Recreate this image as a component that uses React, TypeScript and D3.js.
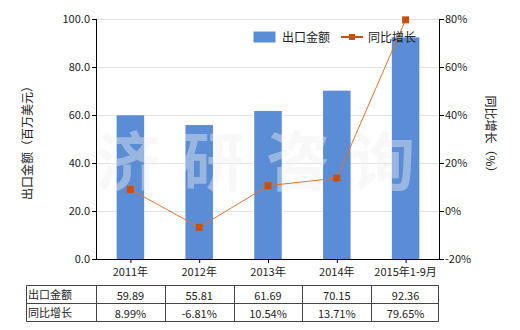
import React from "react";
import * as d3 from "d3";

const categories = ["2011年", "2012年", "2013年", "2014年", "2015年1-9月"];
const exportValues = [59.89, 55.81, 61.69, 70.15, 92.36];
const growthValues = [8.99, -6.81, 10.54, 13.71, 79.65];
const exportLabels = ["59.89", "55.81", "61.69", "70.15", "92.36"];
const growthLabels = ["8.99%", "-6.81%", "10.54%", "13.71%", "79.65%"];
const leftTicks = [0, 20, 40, 60, 80, 100];
const rightTicks = [-20, 0, 20, 40, 60, 80];
const seriesNames = ["出口金额", "同比增长"];
const watermark = ["济", "研", "咨", "询"];

const W = 520;
const H = 330;
const L = 96;
const R = 440;
const T = 19;
const B = 259;
const FONT = "'Noto Sans CJK SC', 'Noto Sans', sans-serif";
const BAR = "#5B8DD6";
const LINE = "#E0732A";
const MARK = "#C8500F";

export default function App() {
  const x = d3.scaleBand<string>().domain(categories).range([L, R]).paddingInner(0).paddingOuter(0);
  const yL = d3.scaleLinear().domain([0, 100]).range([B, T]);
  const yR = d3.scaleLinear().domain([-20, 80]).range([B, T]);
  const bw = x.bandwidth();
  const barW = bw * 0.4;
  const cx = (c: string) => (x(c) as number) + bw / 2;
  const line = d3
    .line<number>()
    .x((_, i) => cx(categories[i]))
    .y((d) => yR(d));
  const row1 = 285.5;
  const row2 = 303.5;
  const row3 = 321.5;
  const tableLeft = 26.5;

  return (
    <svg
      width={W}
      height={H}
      style={{ position: "absolute", left: 0, top: 0, fontFamily: FONT }}
    >
      <rect width={W} height={H} fill="#fff" />
      {/* grid */}
      {leftTicks.map((t) => (
        <line key={"g" + t} x1={L} x2={R} y1={yL(t) + 0.5} y2={yL(t) + 0.5} stroke="#e3e3e3" />
      ))}
      {/* bars */}
      {categories.map((c, i) => (
        <rect
          key={c}
          x={cx(c) - barW / 2}
          y={yL(exportValues[i])}
          width={barW}
          height={B - yL(exportValues[i])}
          fill={BAR}
        />
      ))}
      {/* watermark */}
      {watermark.map((ch, i) => (
        <text
          key={ch}
          x={128 + i * 85}
          y={185}
          textAnchor="middle"
          fontSize={64}
          fontWeight="bold"
          fill="#eeeeee"
          fillOpacity={0.42}
        >
          {ch}
        </text>
      ))}
      {/* line */}
      <path d={line(growthValues) || ""} fill="none" stroke={LINE} strokeWidth={1} />
      {growthValues.map((v, i) => (
        <rect key={"m" + i} x={cx(categories[i]) - 3.5} y={yR(v) - 3.5} width={7} height={7} fill={MARK} />
      ))}
      {/* left axis */}
      <line x1={L + 0.5} x2={L + 0.5} y1={T} y2={B + 0.5} stroke="#000" />
      {leftTicks.map((t) => (
        <g key={"l" + t}>
          <line x1={L - 4} x2={L} y1={yL(t) + 0.5} y2={yL(t) + 0.5} stroke="#000" />
          <text x={L - 6} y={yL(t) + 4} textAnchor="end" fontSize={11} fill="#222">
            {t.toFixed(1)}
          </text>
        </g>
      ))}
      {/* right axis */}
      <line x1={R - 0.5} x2={R - 0.5} y1={T} y2={B + 0.5} stroke="#000" />
      {rightTicks.map((t) => (
        <g key={"r" + t}>
          <line x1={R} x2={R + 4} y1={yR(t) + 0.5} y2={yR(t) + 0.5} stroke="#000" />
          <text x={R + 5} y={yR(t) + 4} textAnchor="start" fontSize={11} fill="#222">
            {t + "%"}
          </text>
        </g>
      ))}
      {/* bottom axis */}
      <line x1={L} x2={R} y1={B + 0.5} y2={B + 0.5} stroke="#000" />
      {categories.map((c) => (
        <g key={"x" + c}>
          <line x1={cx(c) + 0.5} x2={cx(c) + 0.5} y1={B} y2={B + 4} stroke="#000" />
          <text x={cx(c)} y={B + 17} textAnchor="middle" fontSize={11} fill="#222">
            {c}
          </text>
        </g>
      ))}
      {/* axis titles */}
      <text
        transform={`translate(32,140) rotate(-90)`}
        textAnchor="middle"
        fontSize={12}
        fill="#222"
      >
        出口金额（百万美元）
      </text>
      <text
        transform={`translate(486,137) rotate(90)`}
        textAnchor="middle"
        fontSize={12}
        fill="#222"
      >
        同比增长（%）
      </text>
      {/* legend */}
      <rect x={253.5} y={31.5} width={22} height={11} fill={BAR} />
      <text x={282} y={41.5} fontSize={12} fill="#222">
        {seriesNames[0]}
      </text>
      <line x1={341} x2={363} y1={37} y2={37} stroke={MARK} strokeWidth={2} />
      <rect x={349} y={34} width={6} height={6} fill={MARK} />
      <text x={368} y={41.5} fontSize={12} fill="#222">
        {seriesNames[1]}
      </text>
      {/* table */}
      <g stroke="#444" strokeWidth={1} fill="none">
        <line x1={tableLeft} x2={R - 1.5} y1={row1} y2={row1} />
        <line x1={tableLeft} x2={R - 1.5} y1={row2} y2={row2} />
        <line x1={tableLeft} x2={R - 1.5} y1={row3} y2={row3} />
        <line x1={tableLeft} x2={tableLeft} y1={row1} y2={row3} />
        {categories.map((c) => (
          <line key={"v" + c} x1={Math.round(x(c) as number) + 0.5} x2={Math.round(x(c) as number) + 0.5} y1={row1} y2={row3} />
        ))}
        <line x1={R - 1.5} x2={R - 1.5} y1={row1} y2={row3} />
      </g>
      <text x={28} y={row1 + 13} fontSize={11} fill="#222">
        {seriesNames[0]}
      </text>
      <text x={28} y={row2 + 13} fontSize={11} fill="#222">
        {seriesNames[1]}
      </text>
      {categories.map((c, i) => (
        <g key={"t" + c}>
          <text x={cx(c)} y={row1 + 14} textAnchor="middle" fontSize={11} fill="#222">
            {exportLabels[i]}
          </text>
          <text x={cx(c)} y={row2 + 14} textAnchor="middle" fontSize={11} fill="#222">
            {growthLabels[i]}
          </text>
        </g>
      ))}
    </svg>
  );
}
